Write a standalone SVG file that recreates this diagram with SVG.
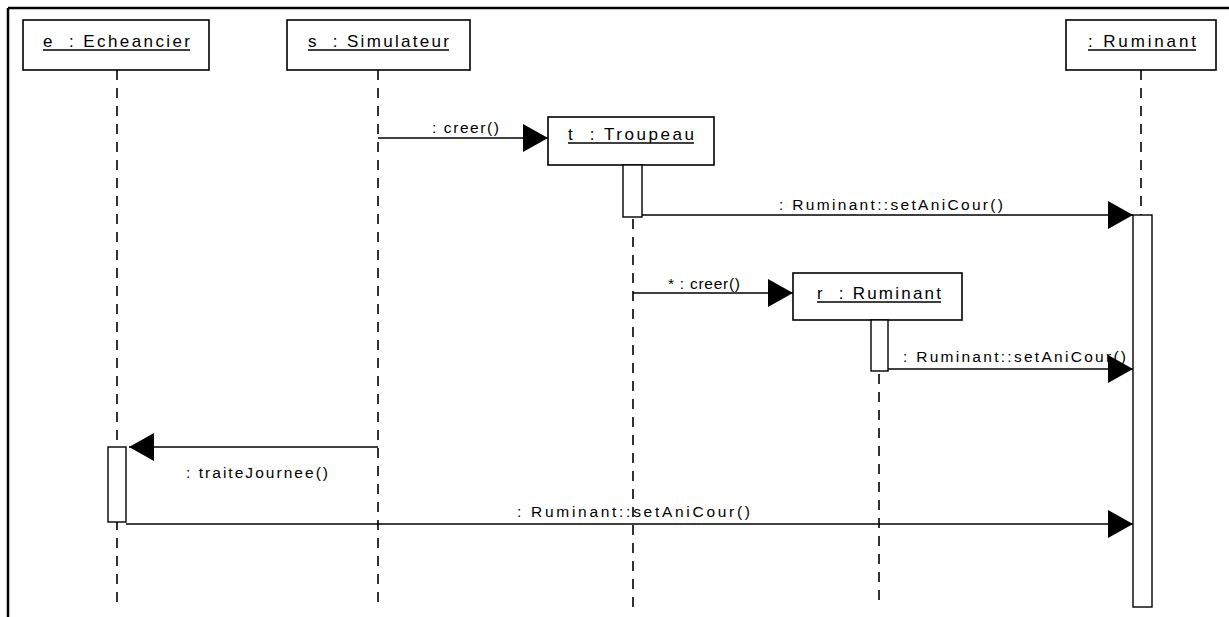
<svg xmlns="http://www.w3.org/2000/svg" width="1229" height="617" viewBox="0 0 1229 617">
<style>
.box{fill:#fff;stroke:#000;stroke-width:1.6}
.act{fill:#fff;stroke:#000;stroke-width:1.4}
.life{stroke:#000;stroke-width:1.6;stroke-dasharray:10 8;fill:none}
.msg{stroke:#000;stroke-width:1.5;fill:none;marker-end:url(#ah)}
.ul{stroke:#000;stroke-width:1.3}
text{font-family:"Liberation Sans",Arial,sans-serif;font-size:15.5px;fill:#000;white-space:pre}
.lbl{font-size:17px}
</style>
<defs>
<marker id="ah" markerUnits="userSpaceOnUse" markerWidth="26" markerHeight="30" refX="25" refY="14" orient="auto">
<path d="M0,0 L25,14 L0,28 z" fill="#000"/>
</marker>
</defs>
<rect width="1229" height="617" fill="#fff"/>
<g id="frame" stroke="#000" stroke-width="2.5">
<line x1="8" y1="8" x2="1229" y2="8"/>
<line x1="8" y1="8" x2="8" y2="617"/>
</g>
<g id="lifelines">
<line class="life" x1="117" y1="70" x2="117" y2="607"/>
<line class="life" x1="378" y1="70" x2="378" y2="607"/>
<line class="life" x1="633" y1="165" x2="633" y2="607"/>
<line class="life" x1="879" y1="320" x2="879" y2="607"/>
<line class="life" x1="1141" y1="70" x2="1141" y2="215"/>
</g>
<g id="node-e">
<rect class="box" x="23" y="20" width="186" height="50"/>
<text class="lbl" x="43" y="47" textLength="147" lengthAdjust="spacing">e  : Echeancier</text>
<line class="ul" x1="43" y1="50" x2="190" y2="50"/>
</g>
<g id="node-s">
<rect class="box" x="287" y="20" width="183" height="50"/>
<text class="lbl" x="308" y="47" textLength="141" lengthAdjust="spacing">s  : Simulateur</text>
<line class="ul" x1="308" y1="50" x2="449" y2="50"/>
</g>
<g id="node-ruminant">
<rect class="box" x="1066" y="20" width="150" height="50"/>
<text class="lbl" x="1088" y="47" textLength="108" lengthAdjust="spacing">: Ruminant</text>
<line class="ul" x1="1088" y1="50" x2="1196" y2="50"/>
<rect class="act" x="1133" y="215" width="19" height="392"/>
</g>
<g id="node-t">
<rect class="box" x="548" y="117" width="166" height="48"/>
<text class="lbl" x="568" y="140" textLength="126" lengthAdjust="spacing">t  : Troupeau</text>
<line class="ul" x1="568" y1="143" x2="694" y2="143"/>
<rect class="act" x="623" y="165" width="19" height="52"/>
</g>
<g id="node-r">
<rect class="box" x="793" y="273" width="169" height="47"/>
<text class="lbl" x="817" y="299" textLength="124" lengthAdjust="spacing">r  : Ruminant</text>
<line class="ul" x1="817" y1="302" x2="941" y2="302"/>
<rect class="act" x="871" y="320" width="17" height="51"/>
</g>
<g id="node-e-act">
<rect class="act" x="108" y="447" width="18" height="75"/>
</g>
<g id="connectors">
<line class="msg" x1="378" y1="138" x2="548" y2="138"/>
<text x="432" y="133" textLength="67" lengthAdjust="spacing">: creer()</text>
<line class="msg" x1="642" y1="215" x2="1133" y2="215"/>
<text x="779" y="210" textLength="224" lengthAdjust="spacing">: Ruminant::setAniCour()</text>
<line class="msg" x1="633" y1="293" x2="793" y2="293"/>
<text x="668" y="289" textLength="72" lengthAdjust="spacing">* : creer()</text>
<line class="msg" x1="888" y1="369" x2="1133" y2="369"/>
<text x="903" y="362" textLength="223" lengthAdjust="spacing">: Ruminant::setAniCour()</text>
<line class="msg" x1="378" y1="447" x2="129" y2="447"/>
<text x="186" y="478" textLength="142" lengthAdjust="spacing">: traiteJournee()</text>
<line class="msg" x1="126" y1="524" x2="1133" y2="524"/>
<text x="517" y="517" textLength="233" lengthAdjust="spacing">: Ruminant::setAniCour()</text>
</g>
</svg>
